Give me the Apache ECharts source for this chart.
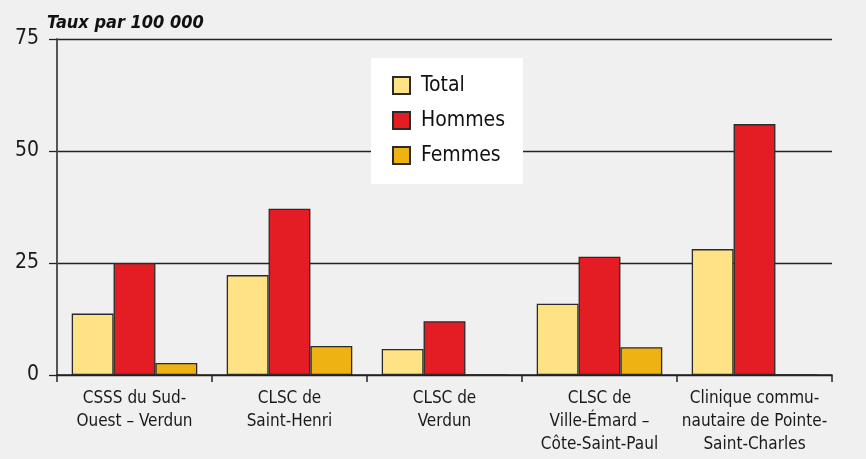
<!DOCTYPE html>
<html>
<head>
<meta charset="utf-8">
<script src="https://cdn.jsdelivr.net/npm/echarts@6/dist/echarts.min.js"></script>
<style>
  html, body { margin: 0; padding: 0; background: #f0f0f0; }
  #chart { width: 866px; height: 459px; }
</style>
</head>
<body>
<div id="chart"></div>
<script>
// catégories (libellés sur deux ou trois lignes)
var categories = [
  'CSSS du Sud-\nOuest – Verdun',
  'CLSC de\nSaint-Henri',
  'CLSC de\nVerdun',
  'CLSC de\nVille-Émard –\nCôte-Saint-Paul',
  'Clinique commu-\nnautaire de Pointe-\nSaint-Charles'
]
var legendNames = ['Total', 'Hommes', 'Femmes']
var total = [13.7, 22.3, 5.8, 15.9, 28.1]
var hommes = [25.0, 37.1, 12.0, 26.4, 56.0]
var femmes = [2.7, 6.5, 0, 6.2, 0]
var yTicks = [0, 25, 50, 75]

var font = "'Liberation Sans Narrow', 'DejaVu Sans Condensed', sans-serif"
var colors = ['#fee285', '#e31d23', '#eeb213']

function barSeries(name, data, color) {
  return {
    name: name,
    type: 'bar',
    data: data,
    barGap: 0,
    barCategoryGap: '19%',
    itemStyle: {
      color: color,
      borderColor: '#2b2b2b',
      borderWidth: 1.3
    }
  }
}

var myChart = echarts.init(document.getElementById('chart'))
myChart.setOption({
  backgroundColor: '#f0f0f0',
  animation: false,
  textStyle: { fontFamily: font },
  title: {
    text: 'Taux par 100 000',
    left: 42,
    top: 9,
    textStyle: {
      fontFamily: font,
      fontSize: 18,
      fontWeight: 'bold',
      fontStyle: 'italic',
      color: '#111'
    }
  },
  legend: {
    data: legendNames,
    orient: 'vertical',
    left: 371,
    top: 58,
    backgroundColor: '#ffffff',
    padding: [17, 18, 18, 21],
    itemWidth: 17,
    itemHeight: 17,
    itemGap: 14,
    icon: 'rect',
    textStyle: {
      fontFamily: font,
      fontSize: 21,
      lineHeight: 18,
      color: '#111',
      padding: [0, 0, 0, 6]
    }
  },
  grid: {
    left: 57,
    right: 34,
    top: 39,
    bottom: 84,
    containLabel: false
  },
  xAxis: {
    type: 'category',
    data: categories,
    axisLine: { lineStyle: { color: '#222', width: 1.5 } },
    axisTick: { show: true, length: 7, lineStyle: { color: '#222', width: 1.5 } },
    axisLabel: {
      fontFamily: font,
      fontSize: 17,
      lineHeight: 23,
      color: '#1a1a1a',
      margin: 12,
      interval: 0
    }
  },
  yAxis: {
    type: 'value',
    min: yTicks[0],
    max: yTicks[yTicks.length - 1],
    interval: 25,
    axisLine: { show: true, lineStyle: { color: '#555', width: 2 } },
    axisTick: { show: true, length: 8, lineStyle: { color: '#222', width: 1.3 } },
    axisLabel: {
      fontFamily: font,
      fontSize: 21,
      color: '#1a1a1a',
      margin: 18
    },
    splitLine: { show: true, lineStyle: { color: '#222', width: 1.3 } }
  },
  series: [
    barSeries(legendNames[0], total, colors[0]),
    barSeries(legendNames[1], hommes, colors[1]),
    barSeries(legendNames[2], femmes, colors[2])
  ]
})
</script>
</body>
</html>
